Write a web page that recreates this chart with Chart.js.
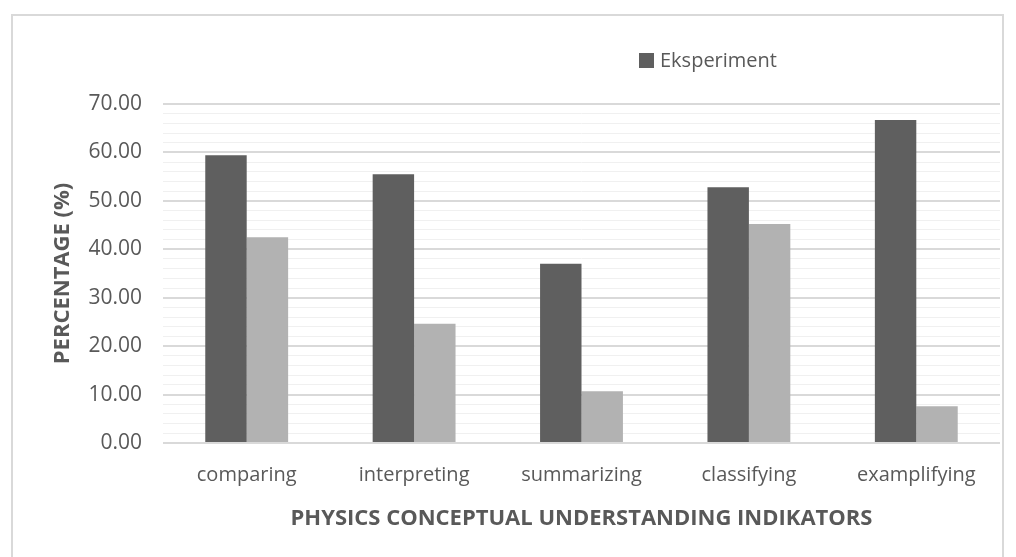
<!DOCTYPE html>
<html>
<head>
<meta charset="utf-8">
<script src="https://cdn.jsdelivr.net/npm/chart.js@4/dist/chart.umd.min.js"></script>
<style>
  html, body { margin: 0; padding: 0; background: #ffffff; }
  #wrap { position: relative; width: 1016px; height: 557px; overflow: hidden; }
  #frame { position: absolute; left: 11px; top: 14px; width: 993px; height: 560px; border: 2px solid #d9d9d9; box-sizing: border-box; }
  canvas { position: absolute; left: 0; top: 0; }
</style>
</head>
<body>
<div id="wrap">
  <div id="frame"></div>
  <canvas id="chart" width="1016" height="557"></canvas>
</div>
<script>
// Indicator categories and the two groups' scores (percent)
const categories = ['comparing', 'interpreting', 'summarizing', 'classifying', 'examplifying'];
const eksperimen = [59.4, 55.5, 37.0, 52.8, 66.7];
const kontrol = [42.5, 24.6, 10.7, 45.2, 7.6];
const seriesNames = ['Eksperiment', 'Kontrol'];
const yMin = 0, yMax = 70, yMinorStep = 2, yMajorStep = 10;

const textColor = '#595959';
const fontFamily = '"Open Sans", "Liberation Sans", sans-serif';

// Legend showing only the first series, placed above the plot
const singleLegend = {
  id: 'singleLegend',
  afterDraw(chart) {
    const ds = chart.data.datasets[0];
    const ctx = chart.ctx;
    ctx.save();
    ctx.fillStyle = ds.backgroundColor;
    ctx.fillRect(639, 53, 15, 15);
    ctx.fillStyle = textColor;
    ctx.font = '20px ' + fontFamily;
    ctx.textBaseline = 'middle';
    ctx.textAlign = 'left';
    ctx.fillText(ds.label, 660, 61);
    ctx.restore();
  }
};

new Chart(document.getElementById('chart'), {
  type: 'bar',
  data: {
    labels: categories,
    datasets: [
      { label: seriesNames[0], data: eksperimen, backgroundColor: '#5f5f5f' },
      { label: seriesNames[1], data: kontrol, backgroundColor: '#b2b2b2' }
    ]
  },
  options: {
    responsive: false,
    animation: false,
    layout: { padding: { left: 0, right: 16, top: 104, bottom: 0 } },
    datasets: { bar: { categoryPercentage: 0.495, barPercentage: 1.0 } },
    plugins: {
      legend: { display: false },
      tooltip: { enabled: false }
    },
    scales: {
      x: {
        grid: { display: false, drawTicks: false },
        border: { display: false },
        ticks: { color: textColor, font: { family: fontFamily, size: 20 }, padding: 20, maxRotation: 0 },
        title: {
          display: true,
          text: 'PHYSICS CONCEPTUAL UNDERSTANDING INDIKATORS',
          color: textColor,
          font: { family: fontFamily, size: 22, weight: 'bold' },
          padding: { top: 0, bottom: 25 }
        },
        afterFit(scale) { scale.height = 114; }
      },
      y: {
        min: yMin,
        max: yMax,
        grid: {
          drawTicks: false,
          color: c => (c.tick.value % yMajorStep === 0 ? '#d9d9d9' : '#f0f0f0'),
          lineWidth: c => (c.tick.value % yMajorStep === 0 ? 2 : 1)
        },
        border: { display: false },
        ticks: {
          stepSize: yMinorStep,
          autoSkip: false,
          padding: 21,
          color: textColor,
          font: { family: fontFamily, size: 21 },
          callback: v => (v % yMajorStep === 0 ? v.toFixed(2) : '')
        },
        title: {
          display: true,
          text: 'PERCENTAGE (%)',
          color: textColor,
          font: { family: fontFamily, size: 22, weight: 'bold' },
          padding: { top: 50, bottom: 0 }
        },
        afterFit(scale) { scale.width = 163; }
      }
    }
  },
  plugins: [singleLegend]
});
</script>
</body>
</html>
